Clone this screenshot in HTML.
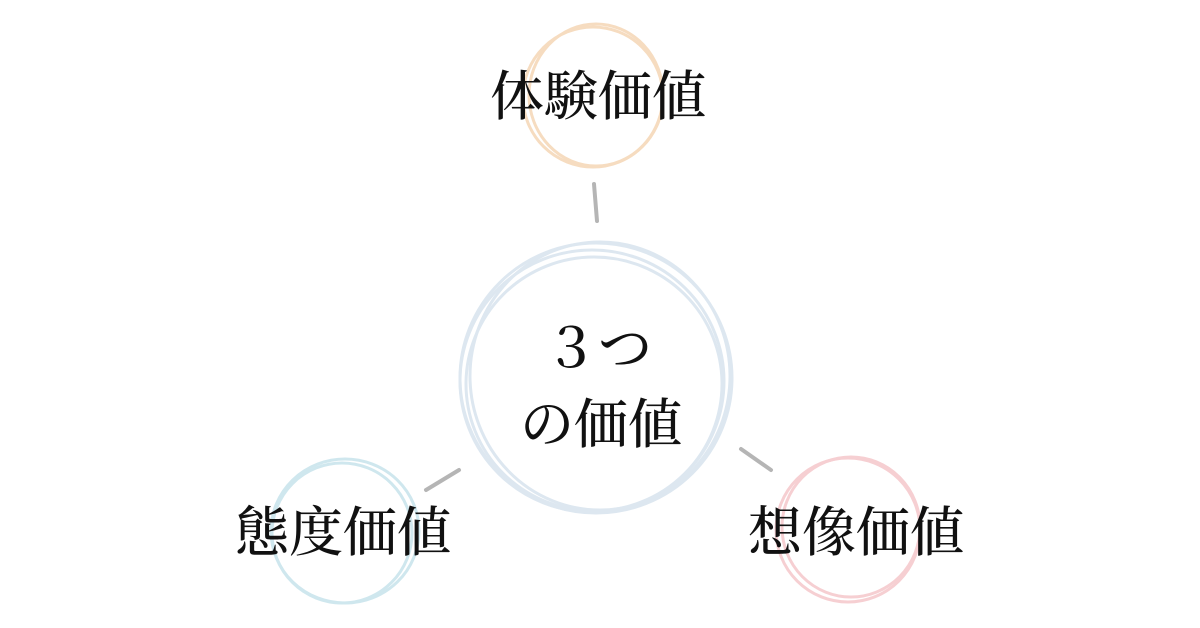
<!DOCTYPE html>
<html><head><meta charset="utf-8"><style>
html,body{margin:0;padding:0;background:#fff;}
body{width:1200px;height:628px;position:relative;overflow:hidden;}
svg{position:absolute;left:0;top:0;}
.t{position:absolute;font-family:"Liberation Serif","Noto Serif CJK SC",serif;font-size:54px;color:#111;white-space:nowrap;line-height:1;font-weight:500;}
</style></head><body>
<svg width="1200" height="628" fill="none">
<g stroke="#f6dcc0" stroke-width="3">
<ellipse cx="593" cy="97" rx="70" ry="70"/>
<ellipse cx="596" cy="95" rx="67" ry="71"/>
</g>
<g stroke="#dde7f0" stroke-width="3">
<ellipse cx="596" cy="378" rx="136" ry="135"/>
<ellipse cx="592" cy="381" rx="132" ry="131"/>
<ellipse cx="600" cy="376" rx="130" ry="134"/>
<ellipse cx="594" cy="384" rx="128" ry="127"/>
</g>
<g stroke="#cfe7ee" stroke-width="3">
<ellipse cx="345" cy="531" rx="74" ry="72"/>
<ellipse cx="342" cy="533" rx="70" ry="70"/>
</g>
<g stroke="#f6cfd2" stroke-width="3">
<ellipse cx="848" cy="530" rx="72" ry="72"/>
<ellipse cx="851" cy="527" rx="69" ry="70"/>
</g>
<g stroke="#b5b5b5" stroke-width="4" stroke-linecap="round">
<line x1="594" y1="184" x2="597" y2="221"/>
<line x1="426" y1="490" x2="459" y2="470"/>
<line x1="741" y1="449" x2="771" y2="470"/>
</g>
</svg>
<div class="t" style="left:490px;top:70px;">体験価値</div>
<div class="t" style="left:235px;top:506px;">態度価値</div>
<div class="t" style="left:748px;top:506px;">想像価値</div>
<div class="t" style="left:544px;top:322px;">３つ</div>
<div class="t" style="left:520px;top:398px;">の価値</div>
</body></html>
